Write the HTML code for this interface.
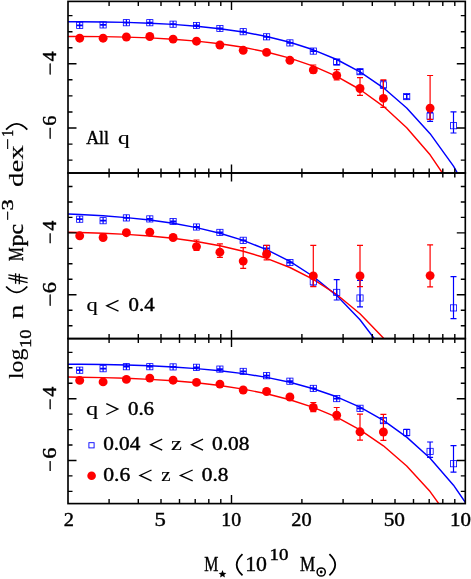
<!DOCTYPE html><html><head><meta charset="utf-8"><style>html,body{margin:0;padding:0;background:#fff}svg{display:block;will-change:transform}</style></head><body><svg width="471" height="579" viewBox="0 0 471 579">
<rect width="471" height="579" fill="#fff"/>
<clipPath id="c1"><rect x="68.0" y="1.4" width="397.3" height="171.6"/></clipPath>
<clipPath id="c2"><rect x="68.0" y="173.0" width="397.3" height="165.60000000000002"/></clipPath>
<clipPath id="c3"><rect x="68.0" y="338.6" width="397.3" height="165.0"/></clipPath>
<polyline clip-path="url(#c1)" points="56.3,21.8 79.7,21.8 103.1,22.0 126.4,22.4 149.8,23.2 173.1,24.4 196.5,26.2 219.9,28.7 243.2,32.0 266.6,36.5 289.9,42.3 313.3,49.8 336.7,59.5 360.0,71.9 383.4,87.8 406.7,108.0 430.1,133.7 453.5,166.2 476.8,207.4" fill="none" stroke="#0000ff" stroke-width="1.45" stroke-linejoin="round"/>
<polyline clip-path="url(#c1)" points="56.3,36.4 79.7,36.4 103.1,36.6 126.4,37.1 149.8,37.9 173.1,39.2 196.5,41.1 219.9,43.7 243.2,47.3 266.6,52.0 289.9,58.1 313.3,66.1 336.7,76.3 360.0,89.5 383.4,106.3 406.7,127.7 430.1,154.8 453.5,189.3" fill="none" stroke="#ff0000" stroke-width="1.45" stroke-linejoin="round"/>
<polyline clip-path="url(#c2)" points="56.3,213.6 79.7,214.5 103.1,215.8 126.4,217.6 149.8,220.0 173.1,223.3 196.5,227.6 219.9,233.2 243.2,240.4 266.6,249.6 289.9,261.4 313.3,276.5 336.7,295.6 360.0,319.8 383.4,350.5" fill="none" stroke="#0000ff" stroke-width="1.45" stroke-linejoin="round"/>
<polyline clip-path="url(#c2)" points="56.3,232.1 79.7,232.5 103.1,233.2 126.4,234.4 149.8,236.0 173.1,238.3 196.5,241.5 219.9,245.7 243.2,251.2 266.6,258.3 289.9,267.5 313.3,279.3 336.7,294.5 360.0,313.7 383.4,338.1 406.7,369.1" fill="none" stroke="#ff0000" stroke-width="1.45" stroke-linejoin="round"/>
<polyline clip-path="url(#c3)" points="56.3,364.1 79.7,364.2 103.1,364.5 126.4,365.0 149.8,365.8 173.1,367.0 196.5,368.6 219.9,370.7 243.2,373.6 266.6,377.4 289.9,382.3 313.3,388.7 336.7,396.8 360.0,407.1 383.4,420.3 406.7,437.1 430.1,458.3 453.5,485.2 476.8,519.1" fill="none" stroke="#0000ff" stroke-width="1.45" stroke-linejoin="round"/>
<polyline clip-path="url(#c3)" points="56.3,377.0 79.7,377.2 103.1,377.6 126.4,378.3 149.8,379.4 173.1,380.8 196.5,382.8 219.9,385.5 243.2,389.1 266.6,393.7 289.9,399.7 313.3,407.4 336.7,417.2 360.0,429.8 383.4,445.8 406.7,466.0 430.1,491.6 453.5,524.0" fill="none" stroke="#ff0000" stroke-width="1.45" stroke-linejoin="round"/>
<g clip-path="url(#c1)">
<path d="M79.7,25.0V25.6M76.7,25.0h6M76.7,25.6h6" stroke="#0000ff" stroke-width="1.2" fill="none"/>
<path d="M79.7,22.2v6.2" stroke="#0000ff" stroke-width="1.2"/>
<rect x="76.6" y="22.2" width="6.2" height="6.2" fill="none" stroke="#0000ff" stroke-width="0.8"/>
<path d="M103.1,24.6V25.2M100.1,24.6h6M100.1,25.2h6" stroke="#0000ff" stroke-width="1.2" fill="none"/>
<path d="M103.1,21.8v6.2" stroke="#0000ff" stroke-width="1.2"/>
<rect x="100.0" y="21.8" width="6.2" height="6.2" fill="none" stroke="#0000ff" stroke-width="0.8"/>
<path d="M126.4,22.4V23.0M123.4,22.4h6M123.4,23.0h6" stroke="#0000ff" stroke-width="1.2" fill="none"/>
<path d="M126.4,19.6v6.2" stroke="#0000ff" stroke-width="1.2"/>
<rect x="123.3" y="19.6" width="6.2" height="6.2" fill="none" stroke="#0000ff" stroke-width="0.8"/>
<path d="M149.8,22.4V23.0M146.8,22.4h6M146.8,23.0h6" stroke="#0000ff" stroke-width="1.2" fill="none"/>
<path d="M149.8,19.6v6.2" stroke="#0000ff" stroke-width="1.2"/>
<rect x="146.7" y="19.6" width="6.2" height="6.2" fill="none" stroke="#0000ff" stroke-width="0.8"/>
<path d="M173.1,23.9V24.5M170.1,23.9h6M170.1,24.5h6" stroke="#0000ff" stroke-width="1.2" fill="none"/>
<path d="M173.1,21.1v6.2" stroke="#0000ff" stroke-width="1.2"/>
<rect x="170.0" y="21.1" width="6.2" height="6.2" fill="none" stroke="#0000ff" stroke-width="0.8"/>
<path d="M196.5,25.2V25.8M193.5,25.2h6M193.5,25.8h6" stroke="#0000ff" stroke-width="1.2" fill="none"/>
<path d="M196.5,22.4v6.2" stroke="#0000ff" stroke-width="1.2"/>
<rect x="193.4" y="22.4" width="6.2" height="6.2" fill="none" stroke="#0000ff" stroke-width="0.8"/>
<path d="M219.9,28.2V28.8M216.9,28.2h6M216.9,28.8h6" stroke="#0000ff" stroke-width="1.2" fill="none"/>
<path d="M219.9,25.4v6.2" stroke="#0000ff" stroke-width="1.2"/>
<rect x="216.8" y="25.4" width="6.2" height="6.2" fill="none" stroke="#0000ff" stroke-width="0.8"/>
<path d="M243.2,31.4V32.0M240.2,31.4h6M240.2,32.0h6" stroke="#0000ff" stroke-width="1.2" fill="none"/>
<path d="M243.2,28.6v6.2" stroke="#0000ff" stroke-width="1.2"/>
<rect x="240.1" y="28.6" width="6.2" height="6.2" fill="none" stroke="#0000ff" stroke-width="0.8"/>
<path d="M266.6,36.5V37.1M263.6,36.5h6M263.6,37.1h6" stroke="#0000ff" stroke-width="1.2" fill="none"/>
<path d="M266.6,33.7v6.2" stroke="#0000ff" stroke-width="1.2"/>
<rect x="263.5" y="33.7" width="6.2" height="6.2" fill="none" stroke="#0000ff" stroke-width="0.8"/>
<path d="M289.9,42.6V43.2M286.9,42.6h6M286.9,43.2h6" stroke="#0000ff" stroke-width="1.2" fill="none"/>
<path d="M289.9,39.8v6.2" stroke="#0000ff" stroke-width="1.2"/>
<rect x="286.8" y="39.8" width="6.2" height="6.2" fill="none" stroke="#0000ff" stroke-width="0.8"/>
<path d="M313.3,50.8V51.4M310.3,50.8h6M310.3,51.4h6" stroke="#0000ff" stroke-width="1.2" fill="none"/>
<path d="M313.3,48.0v6.2" stroke="#0000ff" stroke-width="1.2"/>
<rect x="310.2" y="48.0" width="6.2" height="6.2" fill="none" stroke="#0000ff" stroke-width="0.8"/>
<path d="M336.7,59.5V64.6M333.7,59.5h6M333.7,64.6h6" stroke="#0000ff" stroke-width="1.2" fill="none"/>
<path d="M336.7,58.9v6.2" stroke="#0000ff" stroke-width="1.2"/>
<rect x="333.6" y="58.9" width="6.2" height="6.2" fill="none" stroke="#0000ff" stroke-width="0.8"/>
<path d="M360.0,69.5V74.0M357.0,69.5h6M357.0,74.0h6" stroke="#0000ff" stroke-width="1.2" fill="none"/>
<path d="M360.0,68.6v6.2" stroke="#0000ff" stroke-width="1.2"/>
<rect x="356.9" y="68.6" width="6.2" height="6.2" fill="none" stroke="#0000ff" stroke-width="0.8"/>
<path d="M383.4,80.6V88.2M380.4,80.6h6M380.4,88.2h6" stroke="#0000ff" stroke-width="1.2" fill="none"/>
<path d="M383.4,81.8v6.2" stroke="#0000ff" stroke-width="1.2"/>
<rect x="380.3" y="81.8" width="6.2" height="6.2" fill="none" stroke="#0000ff" stroke-width="0.8"/>
<path d="M406.7,94.5V98.8M403.7,94.5h6M403.7,98.8h6" stroke="#0000ff" stroke-width="1.2" fill="none"/>
<path d="M406.7,93.5v6.2" stroke="#0000ff" stroke-width="1.2"/>
<rect x="403.6" y="93.5" width="6.2" height="6.2" fill="none" stroke="#0000ff" stroke-width="0.8"/>
<path d="M430.1,112.4V121.3M427.1,112.4h6M427.1,121.3h6" stroke="#0000ff" stroke-width="1.2" fill="none"/>
<path d="M430.1,113.1v6.2" stroke="#0000ff" stroke-width="1.2"/>
<rect x="427.0" y="113.1" width="6.2" height="6.2" fill="none" stroke="#0000ff" stroke-width="0.8"/>
<path d="M453.5,111.9V133.0M450.5,111.9h6M450.5,133.0h6" stroke="#0000ff" stroke-width="1.2" fill="none"/>
<path d="M453.5,122.6v6.2" stroke="#0000ff" stroke-width="1.2"/>
<rect x="450.4" y="122.6" width="6.2" height="6.2" fill="none" stroke="#0000ff" stroke-width="0.8"/>
<circle cx="79.7" cy="38.2" r="4.45" fill="#ff0000"/>
<circle cx="103.1" cy="38.2" r="4.45" fill="#ff0000"/>
<circle cx="126.4" cy="37.0" r="4.45" fill="#ff0000"/>
<circle cx="149.8" cy="36.5" r="4.45" fill="#ff0000"/>
<circle cx="173.1" cy="39.1" r="4.45" fill="#ff0000"/>
<circle cx="196.5" cy="41.2" r="4.45" fill="#ff0000"/>
<circle cx="219.9" cy="45.0" r="4.45" fill="#ff0000"/>
<circle cx="243.2" cy="50.3" r="4.45" fill="#ff0000"/>
<circle cx="266.6" cy="52.4" r="4.45" fill="#ff0000"/>
<circle cx="289.9" cy="60.3" r="4.45" fill="#ff0000"/>
<path d="M313.3,65.0V73.2M310.3,65.0h6M310.3,73.2h6" stroke="#ff0000" stroke-width="1.2" fill="none"/>
<circle cx="313.3" cy="69.9" r="4.45" fill="#ff0000"/>
<path d="M336.7,69.7V79.9M333.7,69.7h6M333.7,79.9h6" stroke="#ff0000" stroke-width="1.2" fill="none"/>
<circle cx="336.7" cy="75.5" r="4.45" fill="#ff0000"/>
<path d="M360.0,77.6V95.3M357.0,77.6h6M357.0,95.3h6" stroke="#ff0000" stroke-width="1.2" fill="none"/>
<circle cx="360.0" cy="88.5" r="4.45" fill="#ff0000"/>
<path d="M383.4,79.8V107.3M380.4,79.8h6M380.4,107.3h6" stroke="#ff0000" stroke-width="1.2" fill="none"/>
<circle cx="383.4" cy="98.4" r="4.45" fill="#ff0000"/>
<path d="M430.1,75.5V119.3M427.1,75.5h6M427.1,119.3h6" stroke="#ff0000" stroke-width="1.2" fill="none"/>
<circle cx="430.1" cy="108.1" r="4.45" fill="#ff0000"/>
</g>
<g clip-path="url(#c2)">
<path d="M79.7,218.9V219.5M76.7,218.9h6M76.7,219.5h6" stroke="#0000ff" stroke-width="1.2" fill="none"/>
<path d="M79.7,216.1v6.2" stroke="#0000ff" stroke-width="1.2"/>
<rect x="76.6" y="216.1" width="6.2" height="6.2" fill="none" stroke="#0000ff" stroke-width="0.8"/>
<path d="M103.1,220.4V221.0M100.1,220.4h6M100.1,221.0h6" stroke="#0000ff" stroke-width="1.2" fill="none"/>
<path d="M103.1,217.6v6.2" stroke="#0000ff" stroke-width="1.2"/>
<rect x="100.0" y="217.6" width="6.2" height="6.2" fill="none" stroke="#0000ff" stroke-width="0.8"/>
<path d="M126.4,217.6V218.2M123.4,217.6h6M123.4,218.2h6" stroke="#0000ff" stroke-width="1.2" fill="none"/>
<path d="M126.4,214.8v6.2" stroke="#0000ff" stroke-width="1.2"/>
<rect x="123.3" y="214.8" width="6.2" height="6.2" fill="none" stroke="#0000ff" stroke-width="0.8"/>
<path d="M149.8,218.6V219.2M146.8,218.6h6M146.8,219.2h6" stroke="#0000ff" stroke-width="1.2" fill="none"/>
<path d="M149.8,215.8v6.2" stroke="#0000ff" stroke-width="1.2"/>
<rect x="146.7" y="215.8" width="6.2" height="6.2" fill="none" stroke="#0000ff" stroke-width="0.8"/>
<path d="M173.1,221.2V221.8M170.1,221.2h6M170.1,221.8h6" stroke="#0000ff" stroke-width="1.2" fill="none"/>
<path d="M173.1,218.4v6.2" stroke="#0000ff" stroke-width="1.2"/>
<rect x="170.0" y="218.4" width="6.2" height="6.2" fill="none" stroke="#0000ff" stroke-width="0.8"/>
<path d="M196.5,226.7V227.3M193.5,226.7h6M193.5,227.3h6" stroke="#0000ff" stroke-width="1.2" fill="none"/>
<path d="M196.5,223.9v6.2" stroke="#0000ff" stroke-width="1.2"/>
<rect x="193.4" y="223.9" width="6.2" height="6.2" fill="none" stroke="#0000ff" stroke-width="0.8"/>
<path d="M219.9,232.1V232.7M216.9,232.1h6M216.9,232.7h6" stroke="#0000ff" stroke-width="1.2" fill="none"/>
<path d="M219.9,229.3v6.2" stroke="#0000ff" stroke-width="1.2"/>
<rect x="216.8" y="229.3" width="6.2" height="6.2" fill="none" stroke="#0000ff" stroke-width="0.8"/>
<path d="M243.2,240.0V240.6M240.2,240.0h6M240.2,240.6h6" stroke="#0000ff" stroke-width="1.2" fill="none"/>
<path d="M243.2,237.2v6.2" stroke="#0000ff" stroke-width="1.2"/>
<rect x="240.1" y="237.2" width="6.2" height="6.2" fill="none" stroke="#0000ff" stroke-width="0.8"/>
<path d="M266.6,248.1V248.7M263.6,248.1h6M263.6,248.7h6" stroke="#0000ff" stroke-width="1.2" fill="none"/>
<path d="M266.6,245.3v6.2" stroke="#0000ff" stroke-width="1.2"/>
<rect x="263.5" y="245.3" width="6.2" height="6.2" fill="none" stroke="#0000ff" stroke-width="0.8"/>
<path d="M289.9,262.2V262.8M286.9,262.2h6M286.9,262.8h6" stroke="#0000ff" stroke-width="1.2" fill="none"/>
<path d="M289.9,259.4v6.2" stroke="#0000ff" stroke-width="1.2"/>
<rect x="286.8" y="259.4" width="6.2" height="6.2" fill="none" stroke="#0000ff" stroke-width="0.8"/>
<path d="M313.3,277.1V286.0M310.3,277.1h6M310.3,286.0h6" stroke="#0000ff" stroke-width="1.2" fill="none"/>
<path d="M313.3,278.6v6.2" stroke="#0000ff" stroke-width="1.2"/>
<rect x="310.2" y="278.6" width="6.2" height="6.2" fill="none" stroke="#0000ff" stroke-width="0.8"/>
<path d="M336.7,279.7V300.0M333.7,279.7h6M333.7,300.0h6" stroke="#0000ff" stroke-width="1.2" fill="none"/>
<path d="M336.7,289.3v6.2" stroke="#0000ff" stroke-width="1.2"/>
<rect x="333.6" y="289.3" width="6.2" height="6.2" fill="none" stroke="#0000ff" stroke-width="0.8"/>
<path d="M360.0,280.4V306.9M357.0,280.4h6M357.0,306.9h6" stroke="#0000ff" stroke-width="1.2" fill="none"/>
<path d="M360.0,294.9v6.2" stroke="#0000ff" stroke-width="1.2"/>
<rect x="356.9" y="294.9" width="6.2" height="6.2" fill="none" stroke="#0000ff" stroke-width="0.8"/>
<path d="M453.5,276.7V318.7M450.5,276.7h6M450.5,318.7h6" stroke="#0000ff" stroke-width="1.2" fill="none"/>
<path d="M453.5,304.8v6.2" stroke="#0000ff" stroke-width="1.2"/>
<rect x="450.4" y="304.8" width="6.2" height="6.2" fill="none" stroke="#0000ff" stroke-width="0.8"/>
<circle cx="79.7" cy="235.8" r="4.45" fill="#ff0000"/>
<circle cx="103.1" cy="237.5" r="4.45" fill="#ff0000"/>
<circle cx="126.4" cy="232.7" r="4.45" fill="#ff0000"/>
<circle cx="149.8" cy="232.2" r="4.45" fill="#ff0000"/>
<circle cx="173.1" cy="237.5" r="4.45" fill="#ff0000"/>
<path d="M196.5,240.0V250.4M193.5,240.0h6M193.5,250.4h6" stroke="#ff0000" stroke-width="1.2" fill="none"/>
<circle cx="196.5" cy="246.6" r="4.45" fill="#ff0000"/>
<path d="M219.9,243.8V257.3M216.9,243.8h6M216.9,257.3h6" stroke="#ff0000" stroke-width="1.2" fill="none"/>
<circle cx="219.9" cy="252.2" r="4.45" fill="#ff0000"/>
<path d="M243.2,247.6V268.3M240.2,247.6h6M240.2,268.3h6" stroke="#ff0000" stroke-width="1.2" fill="none"/>
<circle cx="243.2" cy="261.1" r="4.45" fill="#ff0000"/>
<path d="M266.6,245.4V259.9M263.6,245.4h6M263.6,259.9h6" stroke="#ff0000" stroke-width="1.2" fill="none"/>
<circle cx="266.6" cy="254.0" r="4.45" fill="#ff0000"/>
<path d="M313.3,245.3V286.6M310.3,245.3h6M310.3,286.6h6" stroke="#ff0000" stroke-width="1.2" fill="none"/>
<circle cx="313.3" cy="275.9" r="4.45" fill="#ff0000"/>
<path d="M360.0,245.3V286.6M357.0,245.3h6M357.0,286.6h6" stroke="#ff0000" stroke-width="1.2" fill="none"/>
<circle cx="360.0" cy="275.9" r="4.45" fill="#ff0000"/>
<path d="M430.1,244.9V286.9M427.1,244.9h6M427.1,286.9h6" stroke="#ff0000" stroke-width="1.2" fill="none"/>
<circle cx="430.1" cy="275.6" r="4.45" fill="#ff0000"/>
</g>
<g clip-path="url(#c3)">
<path d="M79.7,369.9V370.5M76.7,369.9h6M76.7,370.5h6" stroke="#0000ff" stroke-width="1.2" fill="none"/>
<path d="M79.7,367.1v6.2" stroke="#0000ff" stroke-width="1.2"/>
<rect x="76.6" y="367.1" width="6.2" height="6.2" fill="none" stroke="#0000ff" stroke-width="0.8"/>
<path d="M103.1,368.4V369.0M100.1,368.4h6M100.1,369.0h6" stroke="#0000ff" stroke-width="1.2" fill="none"/>
<path d="M103.1,365.6v6.2" stroke="#0000ff" stroke-width="1.2"/>
<rect x="100.0" y="365.6" width="6.2" height="6.2" fill="none" stroke="#0000ff" stroke-width="0.8"/>
<path d="M126.4,366.4V367.0M123.4,366.4h6M123.4,367.0h6" stroke="#0000ff" stroke-width="1.2" fill="none"/>
<path d="M126.4,363.6v6.2" stroke="#0000ff" stroke-width="1.2"/>
<rect x="123.3" y="363.6" width="6.2" height="6.2" fill="none" stroke="#0000ff" stroke-width="0.8"/>
<path d="M149.8,366.4V367.0M146.8,366.4h6M146.8,367.0h6" stroke="#0000ff" stroke-width="1.2" fill="none"/>
<path d="M149.8,363.6v6.2" stroke="#0000ff" stroke-width="1.2"/>
<rect x="146.7" y="363.6" width="6.2" height="6.2" fill="none" stroke="#0000ff" stroke-width="0.8"/>
<path d="M173.1,366.6V367.2M170.1,366.6h6M170.1,367.2h6" stroke="#0000ff" stroke-width="1.2" fill="none"/>
<path d="M173.1,363.8v6.2" stroke="#0000ff" stroke-width="1.2"/>
<rect x="170.0" y="363.8" width="6.2" height="6.2" fill="none" stroke="#0000ff" stroke-width="0.8"/>
<path d="M196.5,367.0V367.6M193.5,367.0h6M193.5,367.6h6" stroke="#0000ff" stroke-width="1.2" fill="none"/>
<path d="M196.5,364.2v6.2" stroke="#0000ff" stroke-width="1.2"/>
<rect x="193.4" y="364.2" width="6.2" height="6.2" fill="none" stroke="#0000ff" stroke-width="0.8"/>
<path d="M219.9,368.8V369.4M216.9,368.8h6M216.9,369.4h6" stroke="#0000ff" stroke-width="1.2" fill="none"/>
<path d="M219.9,366.0v6.2" stroke="#0000ff" stroke-width="1.2"/>
<rect x="216.8" y="366.0" width="6.2" height="6.2" fill="none" stroke="#0000ff" stroke-width="0.8"/>
<path d="M243.2,371.1V371.7M240.2,371.1h6M240.2,371.7h6" stroke="#0000ff" stroke-width="1.2" fill="none"/>
<path d="M243.2,368.3v6.2" stroke="#0000ff" stroke-width="1.2"/>
<rect x="240.1" y="368.3" width="6.2" height="6.2" fill="none" stroke="#0000ff" stroke-width="0.8"/>
<path d="M266.6,375.4V376.0M263.6,375.4h6M263.6,376.0h6" stroke="#0000ff" stroke-width="1.2" fill="none"/>
<path d="M266.6,372.6v6.2" stroke="#0000ff" stroke-width="1.2"/>
<rect x="263.5" y="372.6" width="6.2" height="6.2" fill="none" stroke="#0000ff" stroke-width="0.8"/>
<path d="M289.9,380.9V381.5M286.9,380.9h6M286.9,381.5h6" stroke="#0000ff" stroke-width="1.2" fill="none"/>
<path d="M289.9,378.1v6.2" stroke="#0000ff" stroke-width="1.2"/>
<rect x="286.8" y="378.1" width="6.2" height="6.2" fill="none" stroke="#0000ff" stroke-width="0.8"/>
<path d="M313.3,388.1V388.7M310.3,388.1h6M310.3,388.7h6" stroke="#0000ff" stroke-width="1.2" fill="none"/>
<path d="M313.3,385.3v6.2" stroke="#0000ff" stroke-width="1.2"/>
<rect x="310.2" y="385.3" width="6.2" height="6.2" fill="none" stroke="#0000ff" stroke-width="0.8"/>
<path d="M336.7,398.3V398.9M333.7,398.3h6M333.7,398.9h6" stroke="#0000ff" stroke-width="1.2" fill="none"/>
<path d="M336.7,395.5v6.2" stroke="#0000ff" stroke-width="1.2"/>
<rect x="333.6" y="395.5" width="6.2" height="6.2" fill="none" stroke="#0000ff" stroke-width="0.8"/>
<path d="M360.0,408.0V408.6M357.0,408.0h6M357.0,408.6h6" stroke="#0000ff" stroke-width="1.2" fill="none"/>
<path d="M360.0,405.2v6.2" stroke="#0000ff" stroke-width="1.2"/>
<rect x="356.9" y="405.2" width="6.2" height="6.2" fill="none" stroke="#0000ff" stroke-width="0.8"/>
<path d="M383.4,418.0V423.0M380.4,418.0h6M380.4,423.0h6" stroke="#0000ff" stroke-width="1.2" fill="none"/>
<path d="M383.4,417.5v6.2" stroke="#0000ff" stroke-width="1.2"/>
<rect x="380.3" y="417.5" width="6.2" height="6.2" fill="none" stroke="#0000ff" stroke-width="0.8"/>
<path d="M406.7,429.3V435.7M403.7,429.3h6M403.7,435.7h6" stroke="#0000ff" stroke-width="1.2" fill="none"/>
<path d="M406.7,429.4v6.2" stroke="#0000ff" stroke-width="1.2"/>
<rect x="403.6" y="429.4" width="6.2" height="6.2" fill="none" stroke="#0000ff" stroke-width="0.8"/>
<path d="M430.1,442.0V457.3M427.1,442.0h6M427.1,457.3h6" stroke="#0000ff" stroke-width="1.2" fill="none"/>
<path d="M430.1,448.3v6.2" stroke="#0000ff" stroke-width="1.2"/>
<rect x="427.0" y="448.3" width="6.2" height="6.2" fill="none" stroke="#0000ff" stroke-width="0.8"/>
<path d="M453.5,445.6V472.2M450.5,445.6h6M450.5,472.2h6" stroke="#0000ff" stroke-width="1.2" fill="none"/>
<path d="M453.5,460.6v6.2" stroke="#0000ff" stroke-width="1.2"/>
<rect x="450.4" y="460.6" width="6.2" height="6.2" fill="none" stroke="#0000ff" stroke-width="0.8"/>
<circle cx="79.7" cy="380.4" r="4.45" fill="#ff0000"/>
<circle cx="103.1" cy="381.9" r="4.45" fill="#ff0000"/>
<circle cx="126.4" cy="379.4" r="4.45" fill="#ff0000"/>
<circle cx="149.8" cy="378.1" r="4.45" fill="#ff0000"/>
<circle cx="173.1" cy="380.2" r="4.45" fill="#ff0000"/>
<circle cx="196.5" cy="382.4" r="4.45" fill="#ff0000"/>
<circle cx="219.9" cy="384.1" r="4.45" fill="#ff0000"/>
<circle cx="243.2" cy="390.0" r="4.45" fill="#ff0000"/>
<circle cx="266.6" cy="391.5" r="4.45" fill="#ff0000"/>
<circle cx="289.9" cy="397.0" r="4.45" fill="#ff0000"/>
<path d="M313.3,402.5V411.6M310.3,402.5h6M310.3,411.6h6" stroke="#ff0000" stroke-width="1.2" fill="none"/>
<circle cx="313.3" cy="407.5" r="4.45" fill="#ff0000"/>
<path d="M336.7,407.5V419.8M333.7,407.5h6M333.7,419.8h6" stroke="#ff0000" stroke-width="1.2" fill="none"/>
<circle cx="336.7" cy="415.2" r="4.45" fill="#ff0000"/>
<path d="M360.0,414.2V440.2M357.0,414.2h6M357.0,440.2h6" stroke="#ff0000" stroke-width="1.2" fill="none"/>
<circle cx="360.0" cy="431.8" r="4.45" fill="#ff0000"/>
<path d="M383.4,414.3V440.3M380.4,414.3h6M380.4,440.3h6" stroke="#ff0000" stroke-width="1.2" fill="none"/>
<circle cx="383.4" cy="432.0" r="4.45" fill="#ff0000"/>
</g>
<g stroke="#000" fill="none">
<rect x="68.0" y="1.4" width="397.3" height="171.6" stroke-width="1.65"/>
<rect x="68.0" y="173.0" width="397.3" height="165.60000000000002" stroke-width="1.65"/>
<rect x="68.0" y="338.6" width="397.3" height="165.0" stroke-width="1.65"/>
<path d="M109.1,1.4V5.9M109.1,168.5V177.5M109.1,334.1V343.1M109.1,499.1V503.6M138.3,1.4V5.9M138.3,168.5V177.5M138.3,334.1V343.1M138.3,499.1V503.6M161.0,1.4V5.9M161.0,168.5V177.5M161.0,334.1V343.1M161.0,499.1V503.6M179.5,1.4V5.9M179.5,168.5V177.5M179.5,334.1V343.1M179.5,499.1V503.6M195.2,1.4V5.9M195.2,168.5V177.5M195.2,334.1V343.1M195.2,499.1V503.6M208.8,1.4V5.9M208.8,168.5V177.5M208.8,334.1V343.1M208.8,499.1V503.6M220.8,1.4V5.9M220.8,168.5V177.5M220.8,334.1V343.1M220.8,499.1V503.6M231.5,1.4V9.9M231.5,164.5V181.5M231.5,330.1V347.1M231.5,495.1V503.6M301.9,1.4V5.9M301.9,168.5V177.5M301.9,334.1V343.1M301.9,499.1V503.6M343.1,1.4V5.9M343.1,168.5V177.5M343.1,334.1V343.1M343.1,499.1V503.6M372.3,1.4V5.9M372.3,168.5V177.5M372.3,334.1V343.1M372.3,499.1V503.6M395.0,1.4V5.9M395.0,168.5V177.5M395.0,334.1V343.1M395.0,499.1V503.6M413.5,1.4V5.9M413.5,168.5V177.5M413.5,334.1V343.1M413.5,499.1V503.6M429.2,1.4V5.9M429.2,168.5V177.5M429.2,334.1V343.1M429.2,499.1V503.6M442.8,1.4V5.9M442.8,168.5V177.5M442.8,334.1V343.1M442.8,499.1V503.6M454.8,1.4V5.9M454.8,168.5V177.5M454.8,334.1V343.1M454.8,499.1V503.6M68.0,160.1h4.5M465.3,160.1h-4.5M68.0,144.1h4.5M465.3,144.1h-4.5M68.0,128.0h8.5M465.3,128.0h-8.5M68.0,112.0h4.5M465.3,112.0h-4.5M68.0,95.9h4.5M465.3,95.9h-4.5M68.0,79.8h4.5M465.3,79.8h-4.5M68.0,63.8h8.5M465.3,63.8h-8.5M68.0,47.8h4.5M465.3,47.8h-4.5M68.0,31.7h4.5M465.3,31.7h-4.5M68.0,15.6h4.5M465.3,15.6h-4.5M68.0,325.7h4.5M465.3,325.7h-4.5M68.0,310.2h4.5M465.3,310.2h-4.5M68.0,294.8h8.5M465.3,294.8h-8.5M68.0,279.3h4.5M465.3,279.3h-4.5M68.0,263.8h4.5M465.3,263.8h-4.5M68.0,248.4h4.5M465.3,248.4h-4.5M68.0,232.9h8.5M465.3,232.9h-8.5M68.0,217.4h4.5M465.3,217.4h-4.5M68.0,202.0h4.5M465.3,202.0h-4.5M68.0,186.5h4.5M465.3,186.5h-4.5M68.0,491.4h4.5M465.3,491.4h-4.5M68.0,475.9h4.5M465.3,475.9h-4.5M68.0,460.5h8.5M465.3,460.5h-8.5M68.0,445.0h4.5M465.3,445.0h-4.5M68.0,429.6h4.5M465.3,429.6h-4.5M68.0,414.1h4.5M465.3,414.1h-4.5M68.0,398.7h8.5M465.3,398.7h-8.5M68.0,383.2h4.5M465.3,383.2h-4.5M68.0,367.8h4.5M465.3,367.8h-4.5M68.0,352.4h4.5M465.3,352.4h-4.5" stroke-width="1.4"/>
</g>
<text x="63.70" y="525.50" font-size="18" textLength="10.19" lengthAdjust="spacingAndGlyphs" font-family="Liberation Serif, serif" stroke="#000" stroke-width="0.4">2</text>
<text x="154.61" y="525.50" font-size="18" textLength="11.34" lengthAdjust="spacingAndGlyphs" font-family="Liberation Serif, serif" stroke="#000" stroke-width="0.4">5</text>
<text x="221.30" y="525.50" font-size="18" textLength="19.76" lengthAdjust="spacingAndGlyphs" font-family="Liberation Serif, serif" stroke="#000" stroke-width="0.4">10</text>
<text x="291.32" y="525.50" font-size="18" textLength="20.35" lengthAdjust="spacingAndGlyphs" font-family="Liberation Serif, serif" stroke="#000" stroke-width="0.4">20</text>
<text x="383.72" y="525.50" font-size="18" textLength="21.28" lengthAdjust="spacingAndGlyphs" font-family="Liberation Serif, serif" stroke="#000" stroke-width="0.4">50</text>
<text x="450.04" y="525.50" font-size="18" textLength="31.39" lengthAdjust="spacingAndGlyphs" font-family="Liberation Serif, serif" stroke="#000" stroke-width="0.4">100</text>
<text x="86.18" y="144.00" font-size="18" textLength="22.82" lengthAdjust="spacingAndGlyphs" font-family="Liberation Serif, serif" stroke="#000" stroke-width="0.4">All</text>
<text x="118.03" y="144.00" font-size="18" textLength="11.62" lengthAdjust="spacingAndGlyphs" font-family="Liberation Serif, serif" stroke="#000" stroke-width="0.15">q</text>
<text x="86.64" y="311.20" font-size="18" textLength="11.22" lengthAdjust="spacingAndGlyphs" font-family="Liberation Serif, serif" stroke="#000" stroke-width="0.15">q</text>
<path d="M118.5,300.3L106.8,305.8L118.5,311.2" fill="none" stroke="#000" stroke-width="1.35"/>
<text x="128.58" y="311.20" font-size="18" textLength="26.03" lengthAdjust="spacingAndGlyphs" font-family="Liberation Serif, serif" stroke="#000" stroke-width="0.4">0.4</text>
<text x="85.98" y="414.50" font-size="18" textLength="12.18" lengthAdjust="spacingAndGlyphs" font-family="Liberation Serif, serif" stroke="#000" stroke-width="0.15">q</text>
<path d="M106.3,403.6L117.8,409.1L106.3,414.5" fill="none" stroke="#000" stroke-width="1.35"/>
<text x="127.97" y="414.50" font-size="18" textLength="26.03" lengthAdjust="spacingAndGlyphs" font-family="Liberation Serif, serif" stroke="#000" stroke-width="0.4">0.6</text>
<text x="103.17" y="450.10" font-size="18" textLength="37.25" lengthAdjust="spacingAndGlyphs" font-family="Liberation Serif, serif" stroke="#000" stroke-width="0.4">0.04</text>
<path d="M162.2,439.2L150.7,444.7L162.2,450.1" fill="none" stroke="#000" stroke-width="1.35"/>
<text x="171.08" y="450.10" font-size="18" textLength="10.85" lengthAdjust="spacingAndGlyphs" font-family="Liberation Serif, serif" stroke="#000" stroke-width="0.15">z</text>
<path d="M203.0,439.2L191.6,444.7L203.0,450.1" fill="none" stroke="#000" stroke-width="1.35"/>
<text x="211.96" y="450.10" font-size="18" textLength="37.46" lengthAdjust="spacingAndGlyphs" font-family="Liberation Serif, serif" stroke="#000" stroke-width="0.4">0.08</text>
<text x="103.18" y="480.90" font-size="18" textLength="27.08" lengthAdjust="spacingAndGlyphs" font-family="Liberation Serif, serif" stroke="#000" stroke-width="0.4">0.6</text>
<path d="M151.5,470.0L140.0,475.4L151.5,480.9" fill="none" stroke="#000" stroke-width="1.35"/>
<text x="161.33" y="480.90" font-size="18" textLength="9.36" lengthAdjust="spacingAndGlyphs" font-family="Liberation Serif, serif" stroke="#000" stroke-width="0.15">z</text>
<path d="M192.7,470.0L180.5,475.4L192.7,480.9" fill="none" stroke="#000" stroke-width="1.35"/>
<text x="201.76" y="480.90" font-size="18" textLength="26.65" lengthAdjust="spacingAndGlyphs" font-family="Liberation Serif, serif" stroke="#000" stroke-width="0.4">0.8</text>
<text x="204.15" y="570.70" font-size="20.8" textLength="14.14" lengthAdjust="spacingAndGlyphs" font-family="Liberation Serif, serif" stroke="#000" stroke-width="0.4">M</text>
<text x="245.20" y="570.70" font-size="20.8" textLength="21.81" lengthAdjust="spacingAndGlyphs" font-family="Liberation Serif, serif" stroke="#000" stroke-width="0.4">10</text>
<text x="269.57" y="560.00" font-size="16" textLength="18.91" lengthAdjust="spacingAndGlyphs" font-family="Liberation Serif, serif" stroke="#000" stroke-width="0.4">10</text>
<text x="299.88" y="570.70" font-size="20.8" textLength="15.23" lengthAdjust="spacingAndGlyphs" font-family="Liberation Serif, serif" stroke="#000" stroke-width="0.4">M</text>
<text transform="translate(22.70,379.00) rotate(-90)" font-size="20.8" textLength="30.42" lengthAdjust="spacingAndGlyphs" font-family="Liberation Serif, serif" stroke="#000" stroke-width="0.15">log</text>
<text transform="translate(30.60,347.97) rotate(-90)" font-size="16" textLength="18.66" lengthAdjust="spacingAndGlyphs" font-family="Liberation Serif, serif" stroke="#000" stroke-width="0.4">10</text>
<text transform="translate(22.70,318.93) rotate(-90)" font-size="20.8" textLength="14.57" lengthAdjust="spacingAndGlyphs" font-family="Liberation Serif, serif" stroke="#000" stroke-width="0.15">n</text>
<text transform="translate(22.70,261.00) rotate(-90)" font-size="20.8" textLength="13.83" lengthAdjust="spacingAndGlyphs" font-family="Liberation Serif, serif" stroke="#000" stroke-width="0.4">M</text>
<text transform="translate(22.70,246.43) rotate(-90)" font-size="20.8" textLength="22.50" lengthAdjust="spacingAndGlyphs" font-family="Liberation Serif, serif" stroke="#000" stroke-width="0.4">pc</text>
<text transform="translate(12.90,220.31) rotate(-90)" font-size="16" textLength="9.21" lengthAdjust="spacingAndGlyphs" font-family="Liberation Serif, serif" stroke="#000" stroke-width="0.4">−</text>
<text transform="translate(12.90,210.55) rotate(-90)" font-size="16" textLength="11.20" lengthAdjust="spacingAndGlyphs" font-family="Liberation Serif, serif" stroke="#000" stroke-width="0.4">3</text>
<text transform="translate(22.70,187.03) rotate(-90)" font-size="20.8" textLength="41.84" lengthAdjust="spacingAndGlyphs" font-family="Liberation Serif, serif" stroke="#000" stroke-width="0.15">dex</text>
<text transform="translate(12.90,149.83) rotate(-90)" font-size="16" textLength="11.34" lengthAdjust="spacingAndGlyphs" font-family="Liberation Serif, serif" stroke="#000" stroke-width="0.4">−</text>
<text transform="translate(12.90,136.76) rotate(-90)" font-size="16" textLength="6.89" lengthAdjust="spacingAndGlyphs" font-family="Liberation Serif, serif" stroke="#000" stroke-width="0.4">1</text>
<text transform="translate(56.00,75.54) rotate(-90)" font-size="18" textLength="12.91" lengthAdjust="spacingAndGlyphs" font-family="Liberation Serif, serif" stroke="#000" stroke-width="0.4">−</text>
<text transform="translate(56.00,61.46) rotate(-90)" font-size="18" textLength="10.10" lengthAdjust="spacingAndGlyphs" font-family="Liberation Serif, serif" stroke="#000" stroke-width="0.4">4</text>
<text transform="translate(56.00,139.83) rotate(-90)" font-size="18" textLength="12.91" lengthAdjust="spacingAndGlyphs" font-family="Liberation Serif, serif" stroke="#000" stroke-width="0.4">−</text>
<text transform="translate(56.00,125.72) rotate(-90)" font-size="18" textLength="10.20" lengthAdjust="spacingAndGlyphs" font-family="Liberation Serif, serif" stroke="#000" stroke-width="0.4">6</text>
<text transform="translate(56.00,244.01) rotate(-90)" font-size="18" textLength="11.62" lengthAdjust="spacingAndGlyphs" font-family="Liberation Serif, serif" stroke="#000" stroke-width="0.4">−</text>
<text transform="translate(56.00,230.87) rotate(-90)" font-size="18" textLength="10.10" lengthAdjust="spacingAndGlyphs" font-family="Liberation Serif, serif" stroke="#000" stroke-width="0.4">4</text>
<text transform="translate(56.00,306.47) rotate(-90)" font-size="18" textLength="12.78" lengthAdjust="spacingAndGlyphs" font-family="Liberation Serif, serif" stroke="#000" stroke-width="0.4">−</text>
<text transform="translate(56.00,293.22) rotate(-90)" font-size="18" textLength="11.11" lengthAdjust="spacingAndGlyphs" font-family="Liberation Serif, serif" stroke="#000" stroke-width="0.4">6</text>
<text transform="translate(56.00,410.01) rotate(-90)" font-size="18" textLength="11.62" lengthAdjust="spacingAndGlyphs" font-family="Liberation Serif, serif" stroke="#000" stroke-width="0.4">−</text>
<text transform="translate(56.00,396.87) rotate(-90)" font-size="18" textLength="10.10" lengthAdjust="spacingAndGlyphs" font-family="Liberation Serif, serif" stroke="#000" stroke-width="0.4">4</text>
<text transform="translate(56.00,471.79) rotate(-90)" font-size="18" textLength="11.62" lengthAdjust="spacingAndGlyphs" font-family="Liberation Serif, serif" stroke="#000" stroke-width="0.4">−</text>
<text transform="translate(56.00,458.74) rotate(-90)" font-size="18" textLength="11.22" lengthAdjust="spacingAndGlyphs" font-family="Liberation Serif, serif" stroke="#000" stroke-width="0.4">6</text>
<rect x="88.9" y="442.7" width="5.2" height="5.2" fill="none" stroke="#0000ff" stroke-width="0.9"/>
<circle cx="91.6" cy="475.8" r="4.3" fill="#ff0000"/>
<path transform="translate(222.5,574.2) scale(4.1)" d="M0,-1 L0.27,-0.37 L0.951,-0.309 L0.44,0.14 L0.588,0.809 L0,0.46 L-0.588,0.809 L-0.44,0.14 L-0.951,-0.309 L-0.27,-0.37Z" fill="#000"/>
<path d="M242.5,554.1Q230.9,564.7 242.5,575.3M329.4,554.1Q341.0,564.7 329.4,575.3" fill="none" stroke="#000" stroke-width="1.8"/>
<circle cx="321.2" cy="572" r="4.1" fill="none" stroke="#000" stroke-width="1.5"/><circle cx="321.2" cy="572" r="1.4" fill="#000"/>
<g transform="translate(22.7,379) rotate(-90)" fill="none" stroke="#000" stroke-width="1.8">
<path d="M92.5,-16.6Q80.9,-6.0 92.5,4.6M249.4,-16.6Q261.0,-6.0 249.4,4.6"/>
<path stroke-width="1.3" d="M104.2,-14.3L100.5,4.9M101,-14.3L96.4,4.9M95.3,-7.1H105.7M94.8,-3.4H105.2"/>
</g>
</svg></body></html>
